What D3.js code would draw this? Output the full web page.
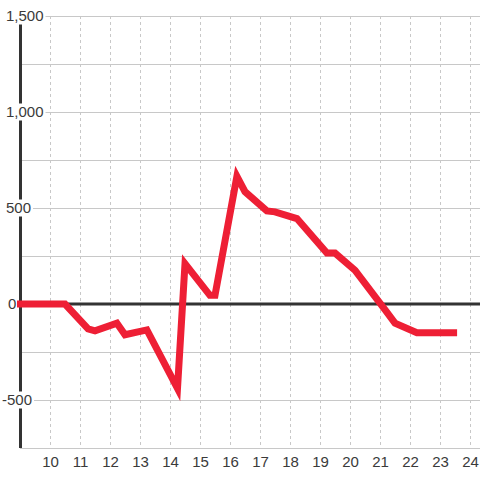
<!DOCTYPE html>
<html>
<head>
<meta charset="utf-8">
<script src="https://cdn.jsdelivr.net/npm/d3@7"></script>
<style>
  body { margin: 0; background: #fff; }
  svg { display: block; }
</style>
</head>
<body>
<div id="chart"></div>
<script>
var xValues = [8.9, 10.5, 11.27, 11.5, 12.23, 12.5, 13.23, 14.25, 14.5, 15.33, 15.5, 16.23, 16.5, 17.23, 17.5, 18.23, 19.23, 19.5, 20.17, 21.17, 21.5, 22.23, 23.57];
var yValues = [0, 0, -130, -140, -100, -160, -135, -440, 210, 45, 45, 665, 585, 485, 480, 445, 265, 265, 175, -30, -100, -150, -150];
var xTicks = [10, 11, 12, 13, 14, 15, 16, 17, 18, 19, 20, 21, 22, 23, 24];
var yGrid = [1500, 1250, 1000, 750, 500, 250, 0, -250, -500, -750];
var yLabels = [1500, 1000, 500, 0, -500];

var width = 480,
    height = 480;

var x = d3.scaleLinear().domain([9, 24.3333]).range([20, 480]);
var y = d3.scaleLinear().domain([-750, 1500]).range([448, 16]);

var svg = d3.select('#chart')
    .append('svg')
    .attr('width', width)
    .attr('height', height)
    .style('font-family', '"Liberation Sans", Arial, sans-serif');

// vertical dotted grid
svg.append('g')
    .selectAll('line')
    .data(xTicks)
    .join('line')
    .attr('x1', d => x(d) + 0.5)
    .attr('x2', d => x(d) + 0.5)
    .attr('y1', y(1500))
    .attr('y2', y(-750))
    .attr('stroke', '#c8c8c8')
    .attr('stroke-width', 1)
    .attr('stroke-dasharray', '3,3');

// horizontal grid
svg.append('g')
    .selectAll('line')
    .data(yGrid.filter(d => d !== 0))
    .join('line')
    .attr('x1', x(9))
    .attr('x2', width)
    .attr('y1', d => Math.round(y(d)) + 0.5)
    .attr('y2', d => Math.round(y(d)) + 0.5)
    .attr('stroke', '#c8c8c8')
    .attr('stroke-width', 1);

// y axis line
svg.append('line')
    .attr('x1', 20.5)
    .attr('x2', 20.5)
    .attr('y1', y(1500))
    .attr('y2', y(-750))
    .attr('stroke', '#333')
    .attr('stroke-width', 3);

// y labels with white boxes
var yl = svg.append('g')
    .selectAll('g')
    .data(yLabels)
    .join('g')
    .attr('transform', d => 'translate(5,' + y(d) + ')');

yl.append('text')
    .attr('x', d => d < 0 ? -3 : (d === 0 ? 3 : 1))
    .attr('dy', '0.35em')
    .attr('fill', '#3a3a3a')
    .style('font-size', '15px')
    .text(d => d3.format(',')(d).replace('−', '-'))
    .each(function() {
        var b = this.getBBox();
        d3.select(this.parentNode).insert('rect', 'text')
            .attr('x', b.x - 1)
            .attr('y', -8.5)
            .attr('width', b.width + 3)
            .attr('height', 17)
            .attr('fill', '#fff');
    });

// x labels
svg.append('g')
    .selectAll('text')
    .data(xTicks)
    .join('text')
    .attr('x', d => x(d) + 0.5)
    .attr('y', 462)
    .attr('dy', '0.35em')
    .attr('text-anchor', 'middle')
    .attr('fill', '#3a3a3a')
    .style('font-size', '15px')
    .text(d => d);

// zero line
svg.append('line')
    .attr('x1', x(9))
    .attr('x2', width)
    .attr('y1', y(0))
    .attr('y2', y(0))
    .attr('stroke', '#333')
    .attr('stroke-width', 3);

// data line
var points = xValues.map((d, i) => [d, yValues[i]]);

var line = d3.line()
    .x(d => x(d[0]))
    .y(d => y(d[1]));

svg.append('path')
    .datum(points)
    .attr('d', line)
    .attr('fill', 'none')
    .attr('stroke', '#ee1f35')
    .attr('stroke-width', 7)
    .attr('stroke-linejoin', 'miter')
    .attr('stroke-linecap', 'butt');
</script>
</body>
</html>
